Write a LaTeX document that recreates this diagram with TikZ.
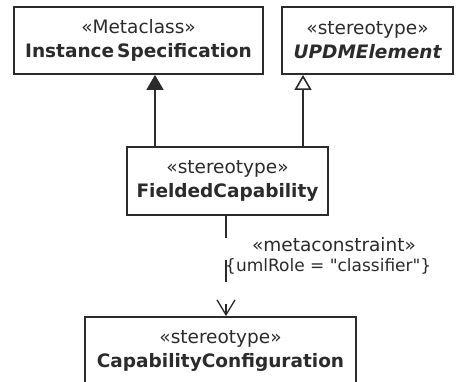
\documentclass[tikz,border=0pt]{standalone}
\usepackage{fontspec}
\setmainfont{DejaVu Sans}
\newfontfamily\rawfont{DejaVu Sans}
\usetikzlibrary{arrows.meta}
\definecolor{ink}{HTML}{2B2B2B}
\begin{document}
\begin{tikzpicture}[x=1pt,y=-1pt,
  umlbox/.style={draw=ink, line width=1.8pt, fill=white, inner sep=0pt,
    align=center, text=ink, font=\fontsize{18.5}{24}\selectfont},
  conn/.style={draw=ink, line width=1.6pt},
  lbl/.style={text=ink, inner sep=0pt, font=\fontsize{18.5}{24}\selectfont}]
\useasboundingbox (0,0) rectangle (457,381);
\clip (0,0) rectangle (457,381);
\fill[white] (0,0) rectangle (457,381);
\node[umlbox, minimum width=249pt, minimum height=67pt] (inst) at (138.5,40.5)
  {«Metaclass»\\{\bfseries Instance\kern3pt Specification}};
\node[umlbox, minimum width=171pt, minimum height=67pt] (updm) at (367.5,40.5)
  {«stereotype»\\{\bfseries\itshape UPDMElement}};
\node[umlbox, minimum width=201pt, minimum height=68pt] (fc) at (227.5,181)
  {«stereotype»\\{\bfseries FieldedCapability}};
\node[umlbox, minimum width=271pt, minimum height=68pt] (cc) at (220.5,351)
  {«stereotype»\\{\bfseries CapabilityConfiguration}};
\coordinate (g1) at (155,0);
\coordinate (g2) at (303,0);
\coordinate (d1) at (226,0);
\draw[conn, -{Triangle[length=15pt,width=17pt,fill=ink]}] (g1 |- fc.north) -- (g1 |- inst.south);
\draw[conn, -{Triangle[open,length=15pt,width=17pt,fill=white]}] (g2 |- fc.north) -- (g2 |- updm.south);
\draw[conn, dash pattern=on 22pt off 22pt, -{Straight Barb[length=15pt,width=18pt,line width=1.3pt]}] (d1 |- fc.south) -- (d1 |- cc.north);
\node[lbl] (mc) at (334,245) {«metaconstraint»};
\node[lbl, anchor=west, font=\rawfont\fontsize{17}{24}\selectfont] (role) at (225,266) {\{umlRole = "classifier"\}};
\end{tikzpicture}
\end{document}
